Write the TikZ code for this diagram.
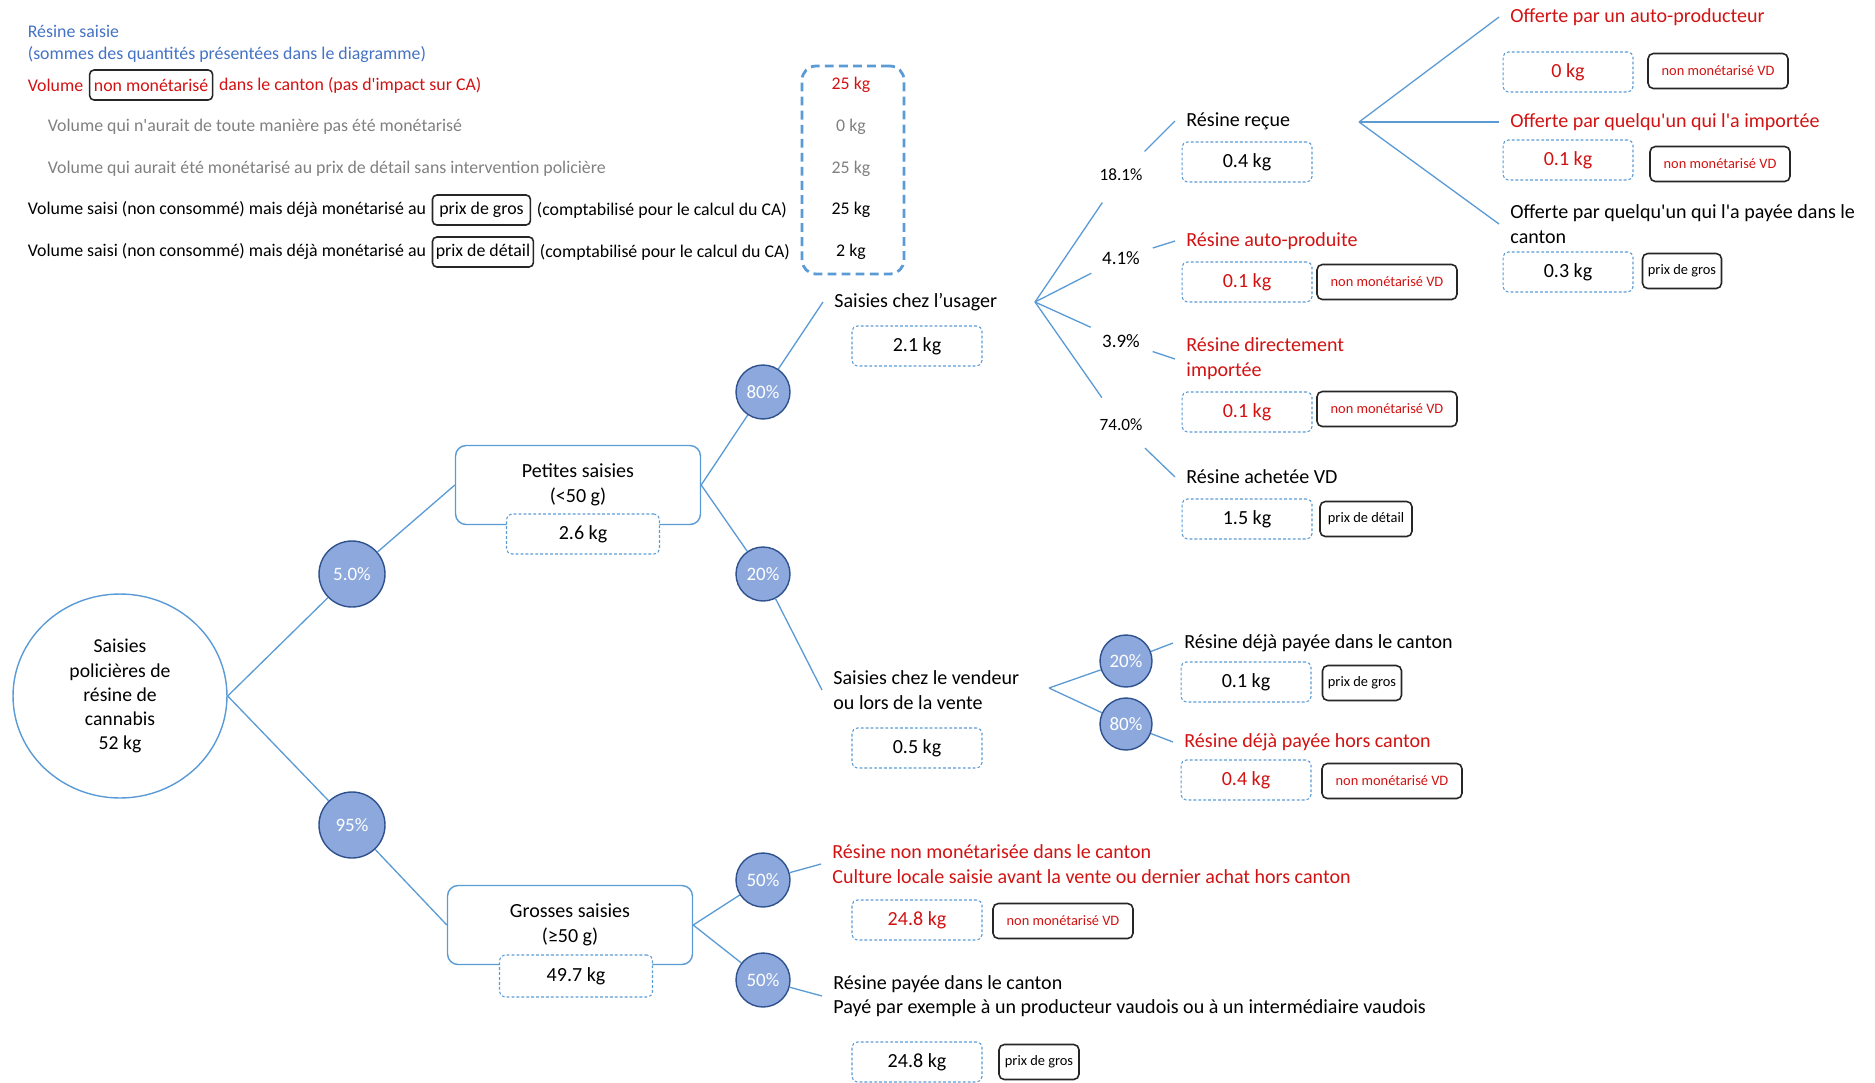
\documentclass[tikz,border=0pt]{standalone}
\usepackage{fontspec}
\setmainfont{Carlito}
\usetikzlibrary{positioning,shapes.geometric}

\definecolor{lblue}{RGB}{91,155,213}
\definecolor{tblue}{RGB}{68,114,196}
\definecolor{cfill}{RGB}{140,168,220}
\definecolor{cdraw}{RGB}{47,82,143}
\definecolor{dred}{RGB}{210,18,18}
\definecolor{lgray}{RGB}{128,128,128}

\newcommand\fmain{\fontsize{11.4}{14.4}\selectfont}
\newcommand\froot{\fontsize{11.2}{13.7}\selectfont}
\newcommand\fgros{\fontsize{11.4}{14}\selectfont}
\newcommand\fleg{\fontsize{10.15}{12}\selectfont}
\newcommand\fsmall{\fontsize{8.2}{10}\selectfont}
\newcommand\fpct{\fontsize{10.8}{13}\selectfont}
\newcommand\fpcts{\fontsize{9.8}{12}\selectfont}

\tikzset{
  lbl/.style={font=\fmain, inner sep=2pt, outer sep=4.5pt, align=left, anchor=west},
  leg/.style={font=\fleg, inner sep=2pt, anchor=west},
  legtag/.style={draw=black!85, line width=0.9pt, rounded corners=2.5pt, font=\fleg, inner sep=1pt, minimum height=0.6cm},
  legframe/.style={draw=lblue, line width=1.6pt, dash pattern=on 5pt off 3pt, rounded corners=8pt, minimum width=2.04cm, minimum height=4.16cm},
  kgbox/.style={draw=lblue, line width=0.6pt, dash pattern=on 1.6pt off 1.2pt, rounded corners=3pt, fill=white, minimum width=2.6cm, minimum height=0.8cm, font=\fmain},
  tag/.style={draw=black!85, line width=0.9pt, rounded corners=3pt, font=\fsmall, inner sep=1pt, minimum height=0.7cm, minimum width=#1},
  tag/.default=2.8cm,
  pct/.style={circle, draw=cdraw, line width=0.8pt, fill=cfill, text=white, font=\fpct, inner sep=0pt, minimum size=1.08cm},
  grp/.style={draw=lblue, line width=0.8pt, rounded corners=6pt, minimum width=4.9cm, minimum height=1.58cm, align=center, font=\fmain},
  rootnode/.style={ellipse, draw=lblue, line width=0.8pt, minimum width=4.28cm, minimum height=4.08cm, align=center, font=\froot},
  frac/.style={circle, inner sep=0pt, minimum size=1.32cm},
  link/.style={draw=lblue, line width=0.75pt}
}

\begin{document}
\begin{tikzpicture}[x=0.02cm, y=-0.02cm]
\useasboundingbox (0,0) rectangle (1875,1082);

% legend
\node[leg, text=tblue] (ttl) at (24,31) {Résine saisie};
\node[leg, text=tblue] (ttl2) at (24,55) {(sommes des quantités présentées dans le diagramme)};
\node[leg, text=dred] (l1a) at (24,85) {Volume};
\node[legtag, text=dred, minimum width=2.46cm, right=1pt of l1a] (l1b) {non monétarisé};
\node[leg, text=dred, right=1pt of l1b] (l1c) {dans le canton (pas d\textquotesingle impact sur CA)};
\node[leg, text=lgray] (l2) at (44,127) {Volume qui n\textquotesingle aurait de toute manière pas été monétarisé};
\node[leg, text=lgray] (l3) at (44,169) {Volume qui aurait été monétarisé au prix de détail sans intervention policière};
\node[leg] (l4a) at (24,210) {Volume saisi (non consommé) mais déjà monétarisé au};
\node[legtag, minimum width=1.96cm, right=1pt of l4a] (l4b) {prix de gros};
\node[leg, right=1pt of l4b] (l4c) {(comptabilisé pour le calcul du CA)};
\node[leg] (l5a) at (24,252) {Volume saisi (non consommé) mais déjà monétarisé au};
\node[legtag, minimum width=2.02cm, right=1pt of l5a] (l5b) {prix de détail};
\node[leg, right=1pt of l5b] (l5c) {(comptabilisé pour le calcul du CA)};

\node[font=\fleg, text=dred] (v1) at (851,85) {25 kg};
\node[font=\fleg, text=lgray] (v2) at (851,127) {0 kg};
\node[font=\fleg, text=lgray] (v3) at (851,169) {25 kg};
\node[font=\fleg] (v4) at (851,210) {25 kg};
\node[font=\fleg] (v5) at (851,252) {2 kg};
\node[legframe] (legbox) at (853,170) {};

% tree
\node[rootnode] (root) at (120,696) {Saisies\\policières de\\résine de\\cannabis\\52 kg};
\node[pct, minimum size=1.32cm] (c5) at (352,574) {5.0\%};
\node[pct, minimum size=1.32cm] (c95) at (352,825) {95\%};

\node[grp] (petites) at (578,485) {Petites saisies\\(<50 g)};
\node[kgbox, minimum width=3.06cm] (k26) at (583,534) {2.6 kg};
\node[grp] (grosses) at (570,925) {Grosses saisies\\(≥50 g)};
\node[kgbox, minimum width=3.06cm, minimum height=0.84cm] (k497) at (576,976) {49.7 kg};

\node[pct] (c80) at (763,392) {80\%};
\node[pct] (c20) at (763,574) {20\%};
\node[pct] (c50a) at (763,880) {50\%};
\node[pct] (c50b) at (763,980) {50\%};

% usager
\node[lbl] (usager) at (823,302) {Saisies chez l'usager};
\node[kgbox] (k21) at (917,346) {2.1 kg};
\coordinate (ufan) at (1035,302);
\node[frac, font=\fpcts] (f181) at (1121,175) {18.1\%};
\node[frac, font=\fpct] (f41) at (1121,258) {4.1\%};
\node[frac, font=\fpct] (f39) at (1121,341) {3.9\%};
\node[frac, font=\fpcts] (f740) at (1121,425) {74.0\%};

\node[lbl] (recue) at (1175,121) {Résine reçue};
\node[kgbox] (k04) at (1247,162) {0.4 kg};
\node[lbl, text=dred] (autop) at (1175,241) {Résine auto-produite};
\node[kgbox, text=dred] (k01a) at (1247,282) {0.1 kg};
\node[tag, text=dred] (t1) at (1387,282) {non monétarisé VD};
\node[lbl, text=dred] (dimp) at (1175,359) {Résine directement\\importée};
\node[kgbox, text=dred] (k01b) at (1247,412) {0.1 kg};
\node[tag, text=dred] (t2) at (1387,409) {non monétarisé VD};
\node[lbl] (achvd) at (1175,477) {Résine achetée VD};
\node[kgbox] (k15) at (1247,519) {1.5 kg};
\node[tag=1.84cm] (t3) at (1366,519) {prix de détail};

\coordinate (rfan) at (1359,122);
\node[lbl, text=dred] (o1) at (1499,17) {Offerte par un auto-producteur};
\node[kgbox, text=dred] (k0) at (1568,72) {0 kg};
\node[tag, text=dred] (t4) at (1718,71) {non monétarisé VD};
\node[lbl, text=dred] (o2) at (1499,122) {Offerte par quelqu\textquotesingle un qui l\textquotesingle a importée};
\node[kgbox, text=dred] (k01c) at (1568,160) {0.1 kg};
\node[tag, text=dred] (t5) at (1720,164) {non monétarisé VD};
\node[lbl] (o3) at (1499,224) {Offerte par quelqu\textquotesingle un qui l\textquotesingle a payée dans le\\canton};
\node[kgbox] (k03) at (1568,272) {0.3 kg};
\node[tag=1.58cm] (t6) at (1682,271) {prix de gros};

% vendeur
\node[lbl] (vendeur) at (822,690) {Saisies chez le vendeur\\ou lors de la vente};
\node[kgbox] (k05) at (917,748) {0.5 kg};
\coordinate (vfan) at (1049,688);
\node[pct, minimum size=1.04cm] (c20v) at (1126,661) {20\%};
\node[pct, minimum size=1.04cm] (c80v) at (1126,724) {80\%};
\node[lbl] (vpaid) at (1173,643) {Résine déjà payée dans le canton};
\node[kgbox] (k01d) at (1246,682) {0.1 kg};
\node[tag=1.58cm] (t7) at (1362,683) {prix de gros};
\node[lbl, text=dred] (vhors) at (1173,742) {Résine déjà payée hors canton};
\node[kgbox, text=dred] (k04b) at (1246,780) {0.4 kg};
\node[tag, text=dred] (t8) at (1392,781) {non monétarisé VD};

% grosses saisies
\node[lbl, font=\fgros, text=dred] (ga) at (821,864) {Résine non monétarisée dans le canton\\Culture locale saisie avant la vente ou dernier achat hors canton};
\node[kgbox, text=dred] (k248a) at (917,920) {24.8 kg};
\node[tag, text=dred] (t9) at (1063,921) {non monétarisé VD};
\node[lbl, font=\fgros] (gb) at (822,996) {Résine payée dans le canton\\Payé par exemple à un producteur vaudois ou à un intermédiaire vaudois};
\node[kgbox] (k248b) at (917,1062) {24.8 kg};
\node[tag=1.6cm] (t10) at (1039,1062) {prix de gros};

% links
\draw[link] (root.east) -- (c5) -- (petites.west);
\draw[link] (root.east) -- (c95) -- (grosses.west);
\draw[link] (petites.east) -- (c80) -- (usager.west);
\draw[link] (petites.east) -- (c20) -- (vendeur.west);
\draw[link] (grosses.east) -- (c50a) -- (ga.west);
\draw[link] (grosses.east) -- (c50b) -- (gb.west);
\foreach \f/\t in {f181/recue, f41/autop, f39/dimp, f740/achvd}
  \draw[link] (ufan) -- (\f) -- (\t.west);
\foreach \t in {o1, o2, o3}
  \draw[link] (rfan) -- (\t.west);
\draw[link] (vfan) -- (c20v) -- (vpaid.west);
\draw[link] (vfan) -- (c80v) -- (vhors.west);
\end{tikzpicture}
\end{document}
